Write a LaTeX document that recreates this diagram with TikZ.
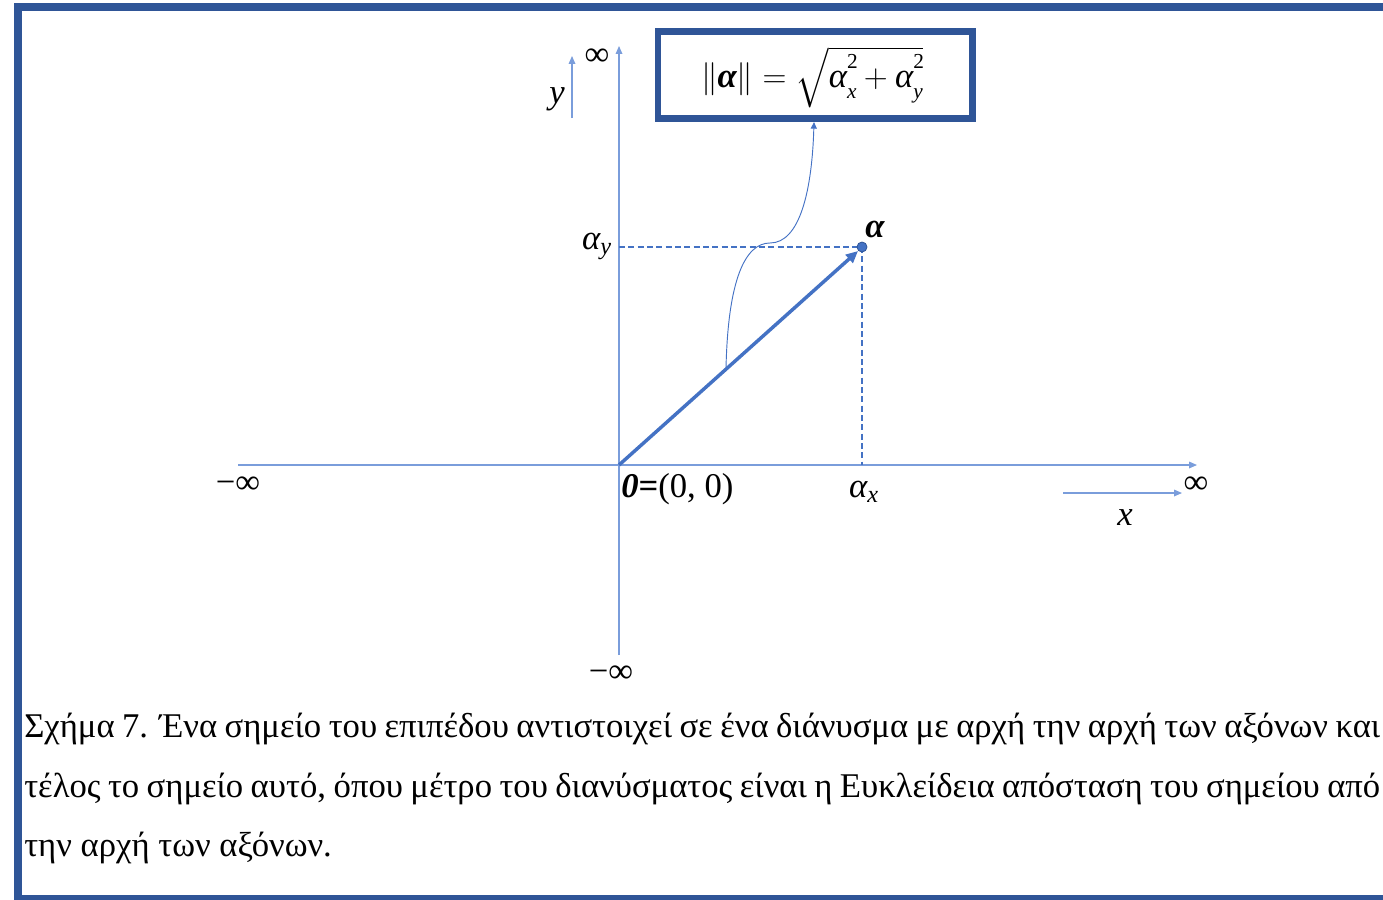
\documentclass[tikz,border=0pt]{standalone}
\usepackage{fontspec}
\setmainfont{Liberation Serif}
\usepackage{amsmath}
\usetikzlibrary{arrows.meta}
\definecolor{frameblue}{HTML}{2F5597}
\definecolor{vecblue}{HTML}{4472C4}
\definecolor{axisblue}{HTML}{7A9DDB}
\newcommand{\mysubsup}[2]{\rlap{\raisebox{0.55em}{\fontsize{16}{16}\selectfont\upshape #1}}\raisebox{-0.32em}{\fontsize{16}{16}\selectfont\itshape #2}}
\begin{document}
\begin{tikzpicture}[x=0.75pt,y=-0.75pt,
  font=\fontsize{26}{31}\selectfont,
  lbl/.style={inner sep=0pt},
  axis/.style={axisblue, line width=0.9pt, -{Triangle[length=6pt,width=5pt]}},
  guide/.style={vecblue, line width=0.9pt, dash pattern=on 4.5pt off 2.5pt},
  vec/.style={vecblue, line width=2.6pt, -{Triangle[length=9pt,width=8pt]}},
  captionline/.style={anchor=base west, inner sep=0pt}]
\useasboundingbox (0,0) rectangle (1383,899);
% frame
\begin{scope}
\clip (0,0) rectangle (1383,899);
\draw[frameblue, line width=6pt] (18,7) rectangle (1400,899);
\end{scope}
% coordinates
\coordinate (O) at (619,465);
\coordinate (xl) at (238,465);
\coordinate (xr) at (1197,465);
\coordinate (yb) at (619,655);
\coordinate (yt) at (619,46);
\coordinate (P) at (862,247);
\coordinate (Py) at (619,247);
\coordinate (Px) at (862,465);
\coordinate (vtip) at (858,251);
% axes
\draw[axis] (xl) -- (xr);
\draw[axis] (yb) -- (yt);
% small direction arrows
\coordinate (ya) at (572,118);
\coordinate (yb2) at (572,56);
\draw[axis] (ya) -- (yb2);
\coordinate (xa) at (1063,493);
\coordinate (xb) at (1182,493);
\draw[axis] (xa) -- (xb);
% guides
\draw[guide] (Py) -- (P);
\draw[guide] (P) -- (Px);
% vector
\draw[vec] (O) -- (vtip);
\node[circle, fill=vecblue, draw=frameblue, line width=0.6pt, minimum size=7.5pt, inner sep=0pt] (dot) at (P) {};
% formula box
\node[draw=frameblue, line width=4.9pt, minimum width=235.9pt, minimum height=65pt, inner sep=0pt] (box) at (815.25,75) {};
\node[lbl] (formula) at (812,77)
  {$\|\text{\bfseries\itshape α}\| = \sqrt{\text{\itshape α\mysubsup{2}{x}} + \text{\itshape α\mysubsup{2}{y}}}$};
% connector curve
\coordinate (cs) at (726,368);
\coordinate (ce) at (814,122);
\draw[vecblue, line width=0.7pt, -{Triangle[length=5pt,width=4.5pt]}] (cs) .. controls (728,280) and (745,243) .. (770,243) .. controls (800,243) and (812,190) .. (ce);
% labels
\node[lbl] (minfx) at (238,485) {−∞};
\node[lbl] (infx) at (1196,485) {∞};
\node[lbl] (infy) at (597,57) {∞};
\node[lbl] (minfy) at (611,674) {−∞};
\node[lbl] (ylab) at (557,99) {\itshape y};
\node[lbl] (xlab) at (1125,518) {\itshape x};
\node[lbl] (alab) at (875,229) {\bfseries\itshape α};
\node[lbl] (aylab) at (597,246) {$\text{\itshape α}_{\text{\itshape y}}$};
\node[lbl] (axlab) at (864,492) {$\text{\itshape α}_{\text{\itshape x}}$};
\node[lbl, anchor=west] (olab) at (621,489) {{\bfseries\itshape 0}{\bfseries =}(0, 0)};
% caption
\node[captionline] (c1) at (24,737) {\makebox[1017pt][s]{Σχήμα 7. Ένα σημείο του επιπέδου αντιστοιχεί σε ένα διάνυσμα με αρχή την αρχή των αξόνων και}};
\node[captionline] (c2) at (24,797) {\makebox[1017pt][s]{τέλος το σημείο αυτό, όπου μέτρο του διανύσματος είναι η Ευκλείδεια απόσταση του σημείου από}};
\node[captionline] (c3) at (24,856) {την αρχή των αξόνων.};
\end{tikzpicture}
\end{document}
